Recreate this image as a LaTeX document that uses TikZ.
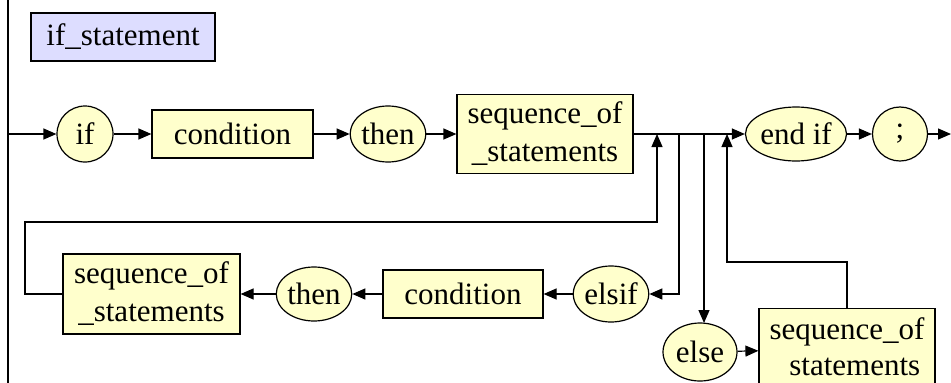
\documentclass[tikz,border=0pt]{standalone}
\usepackage{fontspec}
\setmainfont{Liberation Serif}
\usetikzlibrary{shapes.geometric,arrows.meta}
\definecolor{boxfill}{RGB}{255,255,204}
\definecolor{namefill}{RGB}{221,221,255}
\begin{document}
\begin{tikzpicture}[x=1pt, y=-1pt, line width=1.2pt,
                    >={Triangle[length=13pt,width=11pt]},
                    every node/.style={font=\fontsize{31}{38}\selectfont, inner sep=0pt},
                    term/.style={ellipse,draw,fill=boxfill},
                    nonterm/.style={rectangle,draw,fill=boxfill,align=center}]
  \useasboundingbox (0,0) rectangle (951,383);
  \clip (0,0) rectangle (951,383);

  \node[rectangle,draw,fill=namefill,minimum width=184pt,minimum height=48pt] (name) at (123,37) {if\_statement};

  % main line
  \node[term,minimum width=56pt,minimum height=56pt] (if) at (85,134) {if};
  \node[nonterm,minimum width=161pt,minimum height=48pt] (cond) at (232.5,134) {condition};
  \node[term,minimum width=71pt,minimum height=56pt] (then) at (388,134) {then};
  \node[nonterm,minimum width=176pt,minimum height=79pt] (seq) at (545,134) {sequence\_of\\\_statements};
  \node[term,minimum width=89pt,minimum height=54pt] (endif) at (796,134) {end if};
  \node[term,minimum width=55pt,minimum height=54pt] (semi) at (900,134) {;};

  % elsif branch
  \node[term,minimum width=72pt,minimum height=56pt] (elsif) at (611,294) {elsif};
  \node[nonterm,minimum width=160pt,minimum height=48pt] (cond2) at (463,294) {condition};
  \node[term,minimum width=72pt,minimum height=54pt] (then2) at (314,294) {then};
  \node[nonterm,minimum width=177pt,minimum height=80pt] (seq2) at (151.5,294) {sequence\_of\\\_statements};

  % else branch (runs off the bottom)
  \node[term,minimum width=74pt,minimum height=58pt] (else) at (700,352) {else};
  \node[nonterm,minimum width=176pt,minimum height=81pt,
        font=\fontsize{31}{36}\selectfont] (seq3) at (847,349) {sequence\_of\\\phantom{\_}statements};

  \coordinate (in) at (8,134);
  \coordinate (out) at (951,134);
  \coordinate (elsetop) at (704,323);

  \draw[line width=2pt] (8,0) -- (8,383);

  \path[->]
    (in) edge (if)
    (if) edge (cond)
    (cond) edge (then)
    (then) edge (seq)
    (seq) edge (endif)
    (endif) edge (semi)
    (semi) edge (out)
    (elsif) edge (cond2)
    (cond2) edge (then2)
    (then2) edge (seq2)
    (else) edge (seq3);

  \draw[->] (seq2.west) -- (25,294) -- (25,222) -- (657,222) -- (657,134);
  \draw[->] (679,134) -- (679,294) -- (elsif.east);
  \draw[->] (704,134) -- (elsetop);
  \draw[->] (seq3.north) -- (847,262) -- (727,262) -- (727,134);
\end{tikzpicture}
\end{document}
